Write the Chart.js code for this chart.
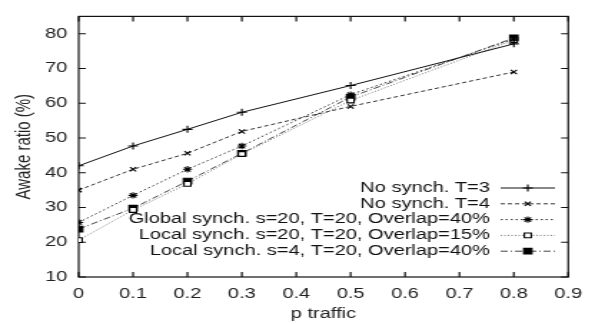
<!DOCTYPE html>
<html lang="en">
<head>
<meta charset="UTF-8">
<title>Awake ratio vs p traffic</title>
<style>
  html, body { margin: 0; padding: 0; background: #fff; overflow: hidden; }
  /* gnuplot-style figure, drawn narrow and widened to 595px */
  #wrap { width: 416px; height: 324px; transform: scaleX(1.4303); transform-origin: 0 0; }
</style>
</head>
<body>
<div id="wrap"><canvas id="chart" width="416" height="324"></canvas></div>
<script src="https://cdn.jsdelivr.net/npm/chart.js@4.4.1/dist/chart.umd.min.js"></script>
<script>
const pTraffic = [0, 0.1, 0.2, 0.3, 0.5, 0.8];
const noSynchT3 = [42, 47.7, 52.5, 57.4, 65.1, 77.1];
const noSynchT4 = [35, 41, 45.6, 51.9, 59.1, 69];
const globalS20 = [25.7, 33.5, 41, 47.7, 62.5, 78.5];
const localS20 = [20.6, 29.3, 36.8, 45.4, 60.8, 78.2];
const localS4 = [23.8, 29.8, 37.6, 45.6, 61.8, 78.8];

const seriesNames = [
  'No synch. T=3',
  'No synch. T=4',
  'Global synch. s=20, T=20, Overlap=40%',
  'Local synch. s=20, T=20, Overlap=15%',
  'Local synch. s=4, T=20, Overlap=40%'
];
const xTicks = [0, 0.1, 0.2, 0.3, 0.4, 0.5, 0.6, 0.7, 0.8, 0.9];
const yTicks = [10, 20, 30, 40, 50, 60, 70, 80];

const FONT = '"Liberation Sans", Arial, Helvetica, sans-serif';

const toPoints = vals => vals.map((v, i) => ({ x: pTraffic[i], y: v }));

const styles = [
  { color: '#111', dash: [], point: 'cross', radius: 3.5, fill: '#111' },
  { color: '#333', dash: [3, 2], point: 'crossRot', radius: 3, fill: '#111' },
  { color: '#333', dash: [1.5, 2], point: 'star', radius: 3.2, fill: '#111' },
  { color: '#777', dash: [1, 1.5], point: 'rect', radius: 3.4, fill: '#fff' },
  { color: '#444', dash: [5, 2, 1, 2], point: 'rect', radius: 4, fill: '#000' }
];
const seriesValues = [noSynchT3, noSynchT4, globalS20, localS20, localS4];

const datasets = seriesValues.map((vals, i) => ({
  label: seriesNames[i],
  data: toPoints(vals),
  borderColor: styles[i].color,
  borderWidth: 1,
  borderDash: styles[i].dash,
  pointStyle: styles[i].point,
  pointRadius: styles[i].radius,
  pointBackgroundColor: styles[i].fill,
  pointBorderColor: '#000',
  pointBorderWidth: 1.1,
  tension: 0,
  fill: false
}));

// frame with inward ticks on all four sides
const framePlugin = {
  id: 'frame',
  beforeDatasetsDraw(chart) {
    const { ctx, chartArea: a, scales } = chart;
    const tl = 5;
    ctx.save();
    ctx.strokeStyle = '#111';
    ctx.lineWidth = 1.2;
    ctx.strokeRect(a.left, a.top, a.right - a.left, a.bottom - a.top);
    ctx.beginPath();
    scales.x.ticks.forEach(t => {
      const x = scales.x.getPixelForValue(t.value);
      ctx.moveTo(x, a.bottom); ctx.lineTo(x, a.bottom - tl);
      ctx.moveTo(x, a.top); ctx.lineTo(x, a.top + tl);
    });
    scales.y.ticks.forEach(t => {
      const y = scales.y.getPixelForValue(t.value);
      ctx.moveTo(a.left, y); ctx.lineTo(a.left + tl, y);
      ctx.moveTo(a.right, y); ctx.lineTo(a.right - tl, y);
    });
    ctx.stroke();
    ctx.restore();
  }
};

// key in the lower right: text right-aligned, line sample after it
const keyPlugin = {
  id: 'key',
  afterDraw(chart) {
    const { ctx } = chart;
    const textRight = 342.5, x0 = 350, x1 = 388, top = 188, step = 15.8;
    ctx.save();
    ctx.font = '14px ' + FONT;
    ctx.textAlign = 'right';
    ctx.textBaseline = 'middle';
    chart.data.datasets.forEach((ds, i) => {
      const y = top + i * step;
      ctx.fillStyle = '#111';
      ctx.fillText(ds.label, textRight, y);
      ctx.strokeStyle = ds.borderColor;
      ctx.lineWidth = 1;
      ctx.setLineDash(ds.borderDash);
      ctx.beginPath();
      ctx.moveTo(x0, y); ctx.lineTo(x1, y);
      ctx.stroke();
      ctx.setLineDash([]);
      ctx.fillStyle = ds.pointBackgroundColor;
      ctx.strokeStyle = '#000';
      ctx.lineWidth = 1.1;
      Chart.helpers.drawPoint(ctx, {
        pointStyle: ds.pointStyle, radius: ds.pointRadius, rotation: 0, borderWidth: 1.1
      }, (x0 + x1) / 2, y);
    });
    ctx.restore();
  }
};

new Chart(document.getElementById('chart'), {
  type: 'line',
  data: { datasets },
  plugins: [framePlugin, keyPlugin],
  options: {
    responsive: false,
    animation: false,
    layout: { padding: { top: 12, right: 16, left: 0, bottom: 0 } },
    plugins: { legend: { display: false }, tooltip: { enabled: false } },
    scales: {
      x: {
        type: 'linear',
        min: 0,
        max: 0.9,
        afterBuildTicks: s => { s.ticks = xTicks.map(v => ({ value: v })); },
        afterFit: s => { s.height = 47; },
        grid: { display: false, drawTicks: false },
        border: { display: false },
        ticks: { padding: 9, color: '#222', font: { family: FONT, size: 14 }, maxRotation: 0 },
        title: { display: true, text: 'p traffic', color: '#222', font: { family: FONT, size: 14 }, padding: { top: 0, bottom: 1 } }
      },
      y: {
        min: 10,
        max: 85,
        afterBuildTicks: s => { s.ticks = yTicks.map(v => ({ value: v })); },
        afterFit: s => { s.width = 55; },
        grid: { display: false, drawTicks: false },
        border: { display: false },
        ticks: { padding: 8, color: '#222', font: { family: FONT, size: 14 } },
        title: { display: true, text: 'Awake ratio (%)', color: '#222', font: { family: FONT, size: 15 }, padding: { top: 8, bottom: 0 } }
      }
    }
  }
});
</script>
</body>
</html>
